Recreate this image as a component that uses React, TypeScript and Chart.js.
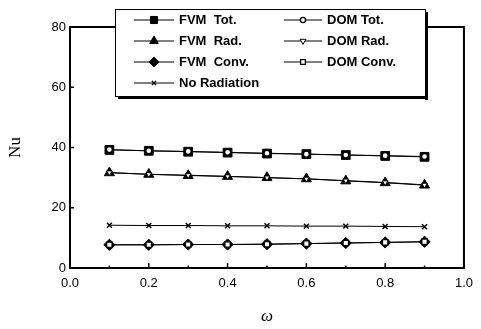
import React, { useEffect, useRef } from 'react';
import { Chart, registerables } from 'chart.js';
import * as helpers from 'chart.js/helpers';

Chart.register(...registerables);

// ---- data ----
const omega = [0.1, 0.2, 0.3, 0.4, 0.5, 0.6, 0.7, 0.8, 0.9];
const fvmTot = [39.2, 38.9, 38.6, 38.3, 38.0, 37.8, 37.5, 37.2, 36.9];
const fvmRad = [31.6, 31.1, 30.7, 30.4, 30.0, 29.6, 28.9, 28.3, 27.5];
const fvmConv = [7.7, 7.7, 7.8, 7.8, 7.9, 8.1, 8.3, 8.5, 8.7];
const noRad = [14.2, 14.1, 14.1, 14.0, 14.0, 13.9, 13.9, 13.8, 13.7];
const domTot = [39.3, 38.9, 38.7, 38.4, 38.1, 37.8, 37.5, 37.3, 37.0];
const domRad = [31.7, 31.1, 30.8, 30.4, 30.0, 29.6, 29.0, 28.4, 27.6];
const domConv = [7.7, 7.7, 7.8, 7.8, 7.9, 8.1, 8.3, 8.5, 8.7];

const labels = {
  fvmTot: 'FVM  Tot.',
  fvmRad: 'FVM  Rad.',
  fvmConv: 'FVM  Conv.',
  noRad: 'No Radiation',
  domTot: 'DOM Tot.',
  domRad: 'DOM Rad.',
  domConv: 'DOM Conv.',
};

const xTickValues = [0, 0.2, 0.4, 0.6, 0.8, 1.0];
const xMinorValues = [0.1, 0.3, 0.5, 0.7, 0.9];
const yTickValues = [0, 20, 40, 60, 80];

const toXY = (ys: number[]) => omega.map((x, i) => ({ x, y: ys[i] }));

type Series = {
  key: string;
  data: number[];
  style: string;
  radius: number;
  legendRadius: number;
  fill: string;
  bw: number;
  rot: number;
  order: number;
  col: number;
  row: number;
};

const series: Series[] = [
  { key: 'fvmTot', data: fvmTot, style: 'rect', radius: 6.2, legendRadius: 5, fill: '#000', bw: 1, rot: 0, order: 3, col: 0, row: 0 },
  { key: 'fvmRad', data: fvmRad, style: 'triangle', radius: 5.8, legendRadius: 5, fill: '#000', bw: 1, rot: 0, order: 3, col: 0, row: 1 },
  { key: 'fvmConv', data: fvmConv, style: 'rectRot', radius: 5.6, legendRadius: 5, fill: '#000', bw: 1, rot: 0, order: 3, col: 0, row: 2 },
  { key: 'noRad', data: noRad, style: 'crossRot', radius: 3.5, legendRadius: 3, fill: '#000', bw: 1.4, rot: 0, order: 3, col: 0, row: 3 },
  { key: 'domTot', data: domTot, style: 'circle', radius: 3, legendRadius: 2.6, fill: '#fff', bw: 1.4, rot: 0, order: 1, col: 1, row: 0 },
  { key: 'domRad', data: domRad, style: 'triangle', radius: 3.2, legendRadius: 3.4, fill: '#fff', bw: 1, rot: 180, order: 1, col: 1, row: 1 },
  { key: 'domConv', data: domConv, style: 'rect', radius: 3.8, legendRadius: 3.4, fill: '#fff', bw: 1.3, rot: 0, order: 1, col: 1, row: 2 },
];

const frameAndTicks = {
  id: 'frameAndTicks',
  beforeDatasetsDraw(chart: any) {
    const { ctx, chartArea: a, scales } = chart;
    ctx.save();
    ctx.strokeStyle = '#000';
    ctx.lineWidth = 1.5;
    ctx.beginPath();
    yTickValues.forEach((v) => {
      const y = scales.y.getPixelForValue(v);
      ctx.moveTo(a.left, y);
      ctx.lineTo(a.left + 4, y);
    });
    xTickValues.forEach((v) => {
      const x = scales.x.getPixelForValue(v);
      ctx.moveTo(x, a.bottom);
      ctx.lineTo(x, a.bottom - 5);
    });
    xMinorValues.forEach((v) => {
      const x = scales.x.getPixelForValue(v);
      ctx.moveTo(x, a.bottom);
      ctx.lineTo(x, a.bottom - 2.5);
    });
    ctx.stroke();
    ctx.lineWidth = 2;
    ctx.strokeRect(a.left, a.top, a.right - a.left, a.bottom - a.top);
    ctx.restore();
  },
};

const boxLegend = {
  id: 'boxLegend',
  afterDraw(chart: any) {
    const { ctx } = chart;
    const bx = 115, by = 9, bw = 310, bh = 87;
    ctx.save();
    ctx.fillStyle = '#fff';
    ctx.fillRect(bx, by, bw, bh);
    ctx.strokeStyle = '#000';
    ctx.lineWidth = 1;
    ctx.strokeRect(bx + 0.5, by + 0.5, bw, bh);
    ctx.fillStyle = '#000';
    ctx.fillRect(bx + bw, by + 3, 3, bh + 1);
    ctx.fillRect(bx + 3, by + bh, bw, 3);

    const rowY = [20, 41, 62, 83];
    const cols = [
      { l0: 134, l1: 174, m: 154, t: 179 },
      { l0: 284, l1: 322, m: 303, t: 327 },
    ];
    ctx.font = 'bold 13px "Liberation Sans", Arial, sans-serif';
    ctx.textBaseline = 'middle';
    ctx.textAlign = 'left';
    series.forEach((s) => {
      const c = cols[s.col];
      const y = rowY[s.row];
      ctx.strokeStyle = '#000';
      ctx.lineWidth = 1;
      ctx.beginPath();
      ctx.moveTo(c.l0, y);
      ctx.lineTo(c.l1, y);
      ctx.stroke();
      ctx.fillStyle = s.fill;
      ctx.lineWidth = s.bw;
      helpers.drawPoint(ctx, { pointStyle: s.style, rotation: s.rot, radius: s.legendRadius, borderWidth: s.bw }, c.m, y);
      ctx.fillStyle = '#000';
      ctx.fillText((labels as any)[s.key], c.t, y + 0.5);
    });
    ctx.restore();
  },
};

export default function App() {
  const ref = useRef<HTMLCanvasElement>(null);
  useEffect(() => {
    if (!ref.current) return;
    const chart = new Chart(ref.current, {
      type: 'line',
      data: {
        datasets: series.map((s) => ({
          label: (labels as any)[s.key],
          data: toXY(s.data),
          borderColor: '#000',
          borderWidth: 1,
          pointStyle: s.style as any,
          pointRadius: s.radius,
          pointRotation: s.rot,
          pointBackgroundColor: s.fill,
          pointBorderColor: '#000',
          pointBorderWidth: s.bw,
          fill: false,
          tension: 0,
          order: s.order,
        })),
      },
      options: {
        responsive: false,
        animation: false,
        events: [],
        layout: { padding: { top: 27, right: 13, left: 0, bottom: 0 } },
        plugins: { legend: { display: false }, tooltip: { enabled: false } },
        scales: {
          x: {
            type: 'linear',
            min: 0,
            max: 1,
            afterFit: (s: any) => { s.height = 61; },
            afterBuildTicks: (s: any) => { s.ticks = xTickValues.map((v) => ({ value: v })); },
            ticks: {
              color: '#000',
              padding: 8,
              maxRotation: 0,
              font: { family: '"Liberation Sans", Arial, sans-serif', size: 13 },
              callback: (v: any) => Number(v).toFixed(1),
            },
            grid: { display: false, drawTicks: false },
            border: { display: false },
            title: {
              display: true,
              text: 'ω',
              color: '#000',
              padding: { top: 0, bottom: 2 },
              font: { family: '"Liberation Serif", "DejaVu Serif", serif', size: 17, style: 'italic' },
            },
          },
          y: {
            type: 'linear',
            min: 0,
            max: 80,
            afterFit: (s: any) => { s.width = 70; },
            afterBuildTicks: (s: any) => { s.ticks = yTickValues.map((v) => ({ value: v })); },
            ticks: {
              color: '#000',
              padding: 4,
              font: { family: '"Liberation Sans", Arial, sans-serif', size: 13 },
            },
            grid: { display: false, drawTicks: false },
            border: { display: false },
            title: {
              display: true,
              text: 'Nu',
              color: '#000',
              padding: { top: 5, bottom: 0 },
              font: { family: '"Liberation Serif", "DejaVu Serif", serif', size: 17 },
            },
          },
        },
      },
      plugins: [frameAndTicks, boxLegend],
    });
    return () => chart.destroy();
  }, []);
  return (
    <div style={{ position: 'absolute', left: 0, top: 0, width: 481, height: 329, background: '#fff' }}>
      <canvas ref={ref} width={481} height={329} />
    </div>
  );
}
